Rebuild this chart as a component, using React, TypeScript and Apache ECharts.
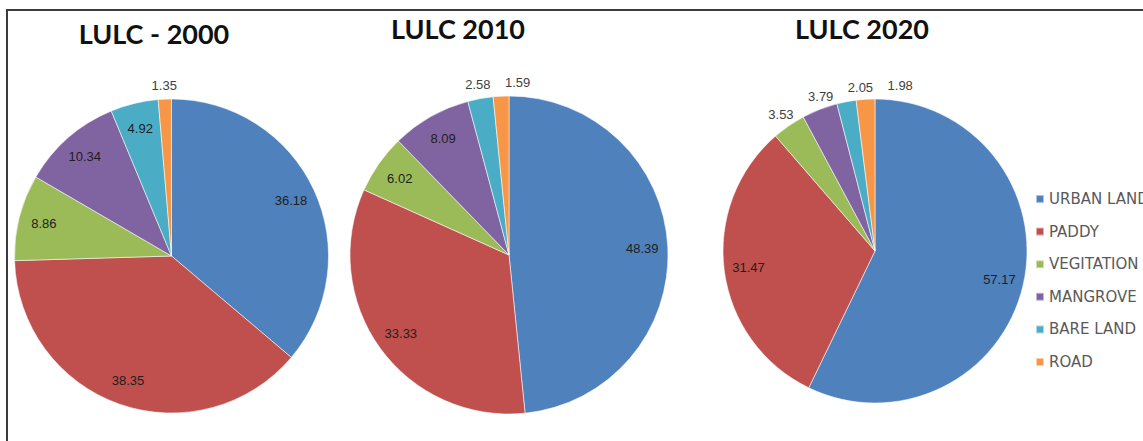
import React, { useEffect, useRef } from 'react';
import * as echarts from 'echarts';

const categories = ['URBAN LAND', 'PADDY', 'VEGITATION', 'MANGROVE', 'BARE LAND', 'ROAD'];
const lulc2000 = [36.18, 38.35, 8.86, 10.34, 4.92, 1.35];
const lulc2010 = [48.39, 33.33, 6.02, 8.09, 2.58, 1.59];
const lulc2020 = [57.17, 31.47, 3.53, 3.79, 2.05, 1.98];
const titles = ['LULC - 2000', 'LULC 2010', 'LULC 2020'];
const colors = ['#4F81BD', '#C0504D', '#9BBB59', '#8064A2', '#4BACC6', '#F79646'];

const SMALL = 4.5;

const layouts = [
  { center: [171.5, 256], r: 157, title: [154, 33] },
  { center: [509, 255], r: 159, title: [458, 28] },
  { center: [875, 251], r: 152, title: [862, 28] },
];

const seriesValues = [lulc2000, lulc2010, lulc2020];

function buildSeries() {
  const out: any[] = [];
  seriesValues.forEach((vals, i) => {
    const L = layouts[i];
    out.push({
      type: 'pie',
      name: titles[i],
      center: L.center,
      radius: [0, L.r],
      startAngle: 90,
      clockwise: true,
      avoidLabelOverlap: false,
      label: { show: false },
      labelLine: { show: false },
      emphasis: { disabled: true },
      itemStyle: { borderColor: 'rgba(255,255,255,0.55)', borderWidth: 1 },
      data: vals.map((v, k) => ({ name: categories[k], value: v, itemStyle: { color: colors[k] } })),
    });
    // inside labels (large slices)
    out.push({
      type: 'pie',
      center: L.center,
      radius: [L.r * 0.64, L.r],
      startAngle: 90,
      clockwise: true,
      silent: true,
      avoidLabelOverlap: false,
      legendHoverLink: false,
      emphasis: { disabled: true },
      itemStyle: { color: 'rgba(0,0,0,0)' },
      labelLine: { show: false },
      label: {
        position: 'inside',
        formatter: '{c}',
        color: '#1e1e1e',
        fontSize: 13,
        fontFamily: 'Liberation Sans',
      },
      data: vals.map((v, k) => ({ name: categories[k], value: v, label: { show: v >= SMALL } })),
    });
    // outside-end labels (small slices)
    out.push({
      type: 'pie',
      center: L.center,
      radius: [L.r, L.r + 22],
      startAngle: 90,
      clockwise: true,
      silent: true,
      avoidLabelOverlap: false,
      legendHoverLink: false,
      emphasis: { disabled: true },
      itemStyle: { color: 'rgba(0,0,0,0)' },
      labelLine: { show: false },
      labelLayout: { moveOverlap: 'shiftX', hideOverlap: false },
      label: {
        position: 'inside',
        formatter: '  {c}  ',
        color: '#404040',
        fontSize: 13,
        fontFamily: 'Liberation Sans',
      },
      data: vals.map((v, k) => ({ name: categories[k], value: v, label: { show: v < SMALL } })),
    });
  });
  return out;
}

export default function App() {
  const ref = useRef<HTMLDivElement>(null);
  useEffect(() => {
    if (!ref.current) return;
    const chart = echarts.init(ref.current, undefined, { renderer: 'svg' });
    chart.setOption({
      animation: false,
      backgroundColor: '#ffffff',
      color: colors,
      legend: {
        orient: 'vertical',
        left: 1030,
        top: 186.5,
        itemWidth: 8,
        itemHeight: 8,
        itemGap: 17.6,
        icon: 'rect',
        selectedMode: false,
        data: categories,
        textStyle: { fontSize: 15, color: '#595959', fontFamily: 'DejaVu Sans' },
      },
      graphic: [
        {
          type: 'rect',
          shape: { x: 7, y: 10, width: 1300, height: 600 },
          style: { fill: 'none', stroke: '#3c3c3c', lineWidth: 2 },
          silent: true,
        },
        ...titles.map((t, i) => ({
          type: 'text',
          x: layouts[i].title[0],
          y: layouts[i].title[1],
          style: {
            text: t,
            fill: '#111',
            font: 'bold 27px Lato',
            textAlign: 'center',
            textVerticalAlign: 'middle',
          },
          silent: true,
        })),
      ],
      series: buildSeries(),
    });
    return () => chart.dispose();
  }, []);
  return (
    <div
      ref={ref}
      style={{ position: 'fixed', left: 0, top: 0, width: 1143, height: 441 }}
    />
  );
}
